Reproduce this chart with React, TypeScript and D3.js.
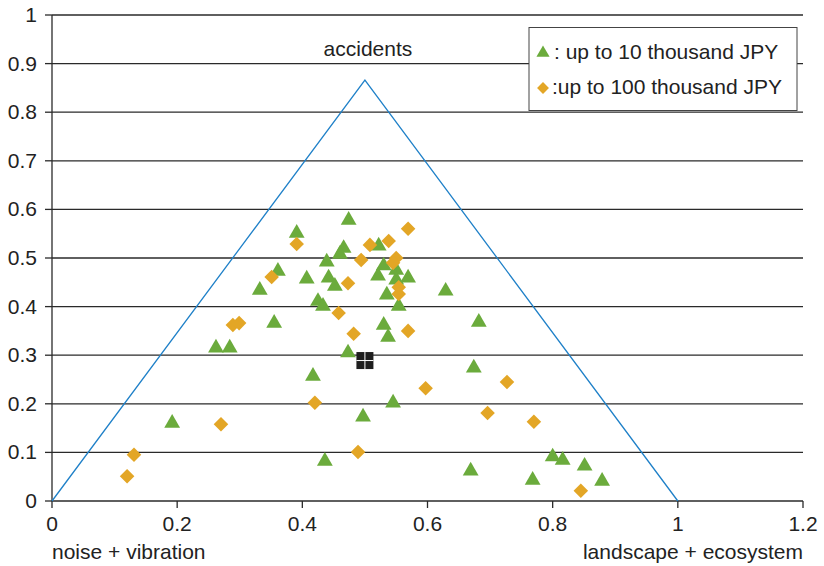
import React from "react";
import * as d3 from "d3";

const greenX = [0.391,0.474,0.466,0.46,0.439,0.522,0.53,0.521,0.55,0.55,0.569,0.361,0.407,0.442,0.452,0.332,0.535,0.629,0.425,0.433,0.554,0.355,0.53,0.537,0.682,0.262,0.284,0.473,0.674,0.417,0.545,0.497,0.192,0.436,0.8,0.816,0.851,0.669,0.768,0.879];
const greenY = [0.551,0.578,0.52,0.508,0.492,0.525,0.484,0.463,0.475,0.455,0.459,0.473,0.457,0.459,0.442,0.434,0.424,0.432,0.411,0.401,0.401,0.366,0.362,0.337,0.368,0.315,0.315,0.305,0.274,0.257,0.202,0.173,0.16,0.082,0.091,0.084,0.072,0.062,0.043,0.041];
const orangeX = [0.391,0.569,0.508,0.538,0.494,0.55,0.545,0.351,0.473,0.554,0.554,0.458,0.289,0.299,0.482,0.569,0.727,0.597,0.42,0.696,0.77,0.27,0.131,0.489,0.12,0.845];
const orangeY = [0.529,0.56,0.527,0.535,0.496,0.5,0.49,0.461,0.448,0.44,0.426,0.387,0.362,0.366,0.344,0.35,0.245,0.232,0.202,0.181,0.163,0.158,0.095,0.101,0.051,0.021];
const triangleX = [0, 0.5, 1];
const triangleY = [0, 0.866, 0];
const centerPoint = [0.5, 0.289];
const xTicks = [0, 0.2, 0.4, 0.6, 0.8, 1, 1.2];
const yTicks = [0, 0.1, 0.2, 0.3, 0.4, 0.5, 0.6, 0.7, 0.8, 0.9, 1];
const legendLabels = [": up to 10 thousand JPY", ":up to 100 thousand JPY"];

const GREEN = "#6bab3c";
const ORANGE = "#e3a626";
const BLUE = "#1f80c8";
const FONT = "'Liberation Sans', Arial, Helvetica, sans-serif";

export default function App() {
  const W = 824, H = 566;
  const x = d3.scaleLinear().domain([0, 1.2]).range([52, 803]);
  const y = d3.scaleLinear().domain([0, 1]).range([501, 15]);
  const tri = d3.symbol().type(d3.symbolTriangle).size(108);
  const dia = d3.symbol().type(d3.symbolDiamond2).size(135);
  const triSmall = d3.symbol().type(d3.symbolTriangle).size(75);
  const diaSmall = d3.symbol().type(d3.symbolDiamond2).size(90);
  const line = d3.line<number>().x((_, i) => x(triangleX[i])).y((_, i) => y(triangleY[i]));
  const fmt = (v: number) => (v === 0 ? "0" : String(+v.toFixed(1)));
  const cx = x(centerPoint[0]);
  const cy = y(centerPoint[1]);
  const fs = 21;

  return (
    <svg width={W} height={H} style={{ position: "absolute", left: 0, top: 0, background: "#fff" }} fontFamily={FONT}>
      {yTicks.slice(1).map((t) => (
        <line key={"g" + t} x1={x(0)} x2={x(1.2)} y1={y(t)} y2={y(t)} stroke="#2a2a2a" strokeWidth={1.3} />
      ))}
      <line x1={x(0)} x2={x(0)} y1={y(0)} y2={y(1)} stroke="#2a2a2a" strokeWidth={1.3} />
      {yTicks.map((t) => (
        <g key={"y" + t}>
          <line x1={x(0) - 7} x2={x(0)} y1={y(t)} y2={y(t)} stroke="#2a2a2a" strokeWidth={1.3} />
          <text x={37} y={y(t) + 7} textAnchor="end" fontSize={fs} fill="#222">{fmt(t)}</text>
        </g>
      ))}
      <line x1={x(0)} x2={x(1.2)} y1={y(0)} y2={y(0)} stroke="#2a2a2a" strokeWidth={1.3} />
      {xTicks.map((t) => (
        <g key={"x" + t}>
          <line x1={x(t)} x2={x(t)} y1={y(0)} y2={y(0) + 7} stroke="#2a2a2a" strokeWidth={1.3} />
          <text x={x(t)} y={531} textAnchor="middle" fontSize={fs} fill="#222">{fmt(t)}</text>
        </g>
      ))}
      <path d={line(triangleX) || ""} fill="none" stroke={BLUE} strokeWidth={1.3} />
      <text x={x(0.5) + 3} y={56} textAnchor="middle" fontSize={fs} fill="#222">accidents</text>
      <text x={52} y={559} textAnchor="start" fontSize={fs} fill="#222">noise + vibration</text>
      <text x={803} y={559} textAnchor="end" fontSize={fs} fill="#222">landscape + ecosystem</text>
      {greenX.map((v, i) => (
        <path key={"gp" + i} d={tri() || ""} transform={`translate(${x(v)},${y(greenY[i])})`} fill={GREEN} />
      ))}
      {orangeX.map((v, i) => (
        <path key={"op" + i} d={dia() || ""} transform={`translate(${x(v)},${y(orangeY[i])})`} fill={ORANGE} />
      ))}
      <rect x={cx - 8.5} y={cy - 8.5} width={17} height={17} fill="#1e1e1e" />
      <line x1={cx} x2={cx} y1={cy - 8.5} y2={cy + 8.5} stroke="#fff" strokeWidth={1} />
      <line x1={cx - 8.5} x2={cx + 8.5} y1={cy} y2={cy} stroke="#fff" strokeWidth={1} />
      <rect x={529} y={27.5} width={268} height={83} fill="#fff" stroke="#444" strokeWidth={1} />
      <path d={triSmall() || ""} transform="translate(543,53)" fill={GREEN} />
      <text x={554} y={59} fontSize={fs} fill="#222">{legendLabels[0]}</text>
      <path d={diaSmall() || ""} transform="translate(543,88)" fill={ORANGE} />
      <text x={552} y={94} fontSize={fs} fill="#222">{legendLabels[1]}</text>
    </svg>
  );
}
